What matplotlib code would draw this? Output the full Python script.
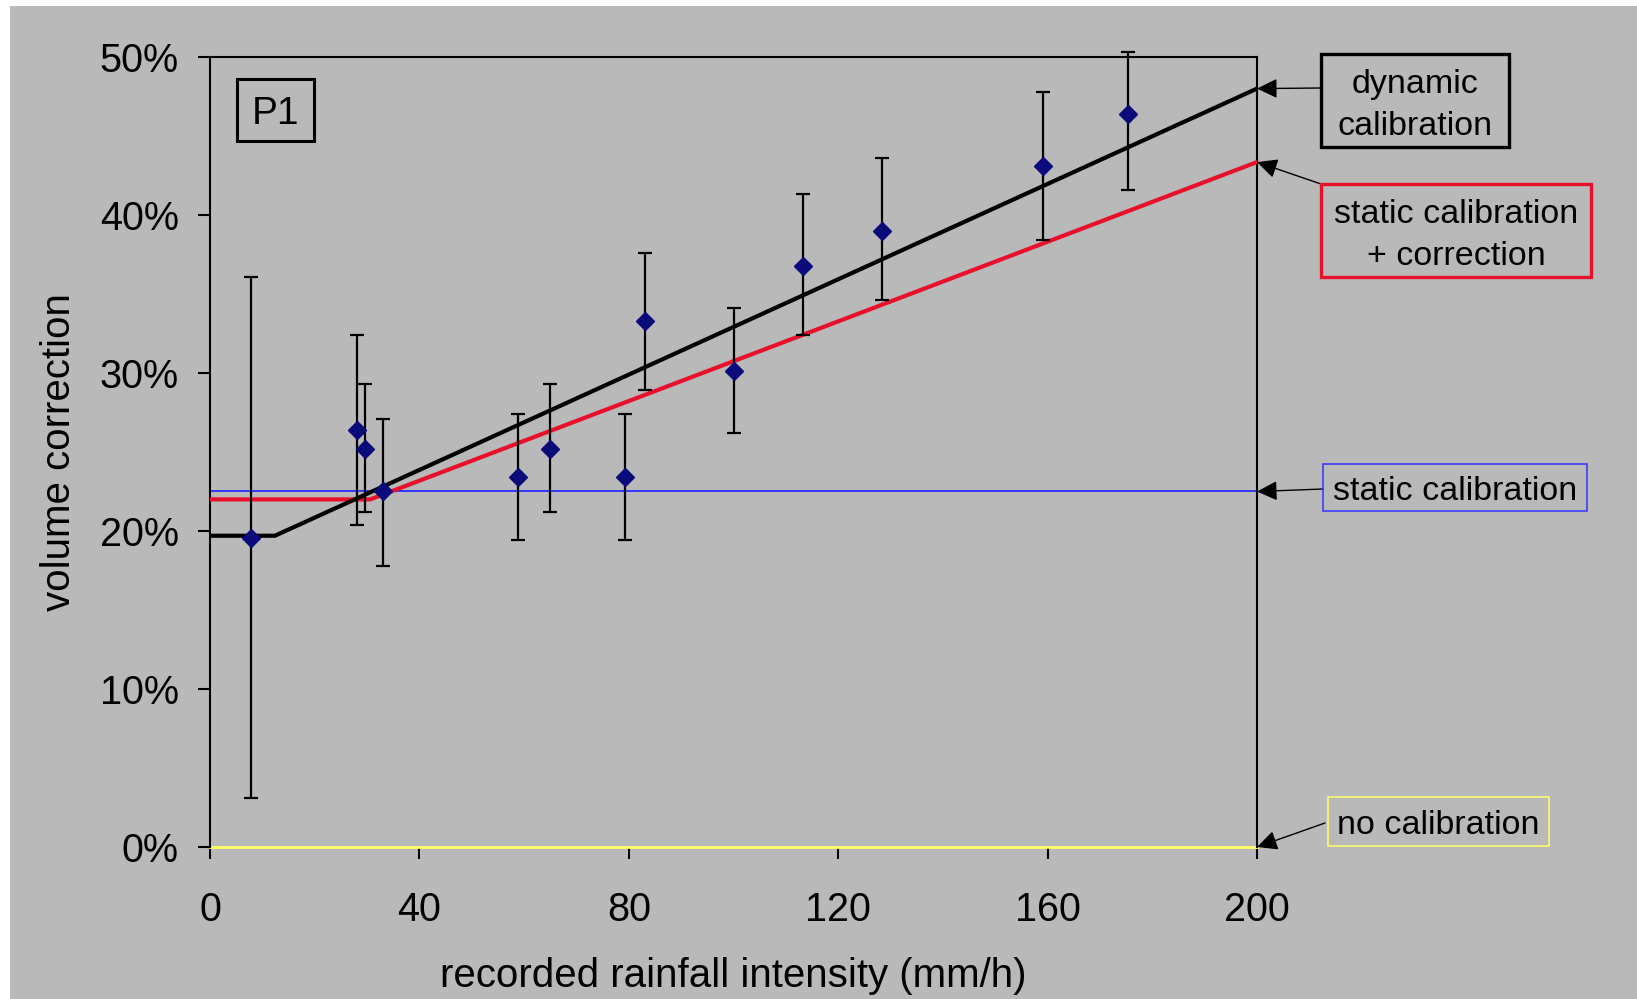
import matplotlib
matplotlib.use("Agg")
import matplotlib.pyplot as plt
from matplotlib.patches import Rectangle
from matplotlib.ticker import FixedLocator, FuncFormatter

plt.rcParams['font.family'] = ['Liberation Sans', 'DejaVu Sans']

# ---- data ----
intensity = [7.8, 28.1, 29.7, 33.1, 58.8, 65.0, 79.2, 83.0, 100.1, 113.3, 128.4, 159.1, 175.3]
correction = [19.55, 26.4, 25.2, 22.5, 23.4, 25.2, 23.4, 33.3, 30.1, 36.8, 39.0, 43.1, 46.4]
err_top = [36.1, 32.4, 29.3, 27.1, 27.4, 29.3, 27.4, 37.6, 34.1, 41.3, 43.6, 47.8, 50.3]
err_bot = [3.1, 20.4, 21.2, 17.8, 19.4, 21.2, 19.4, 28.9, 26.2, 32.4, 34.6, 38.4, 41.6]

dyn_x = [0, 12.4, 200]
dyn_y = [19.7, 19.7, 48.0]
corr_x = [0, 30.6, 200]
corr_y = [22.0, 22.0, 43.35]
static_x = [0, 200]
static_y = [22.5, 22.5]
none_x = [0, 200]
none_y = [0, 0]

xticks = [0, 40, 80, 120, 160, 200]
yticks = [0, 10, 20, 30, 40, 50]

W, H = 1637, 999
GRAY = '#b9b9b9'
RED = '#e8102a'
BLUE = '#3333ff'
YEL = '#ffff66'

fig = plt.figure(figsize=(W / 100, H / 100), dpi=100, facecolor='white')
fig.patches.append(Rectangle((10 / W, 0), 1 - 10 / W, 1 - 6 / H, transform=fig.transFigure,
                             facecolor=GRAY, edgecolor='none', zorder=-10))

def fx(px):
    return px / W

def fy(py):
    return 1 - py / H

ax = fig.add_axes([fx(210), fy(847), (1257 - 210) / W, (847 - 57) / H])
ax.set_facecolor(GRAY)
ax.set_xlim(0, 200)
ax.set_ylim(0, 50)

ax.plot(none_x, none_y, color=YEL, lw=2.0, zorder=2, clip_on=False)
ax.plot(static_x, static_y, color=BLUE, lw=1.4, zorder=2)
ax.plot(corr_x, corr_y, color=RED, lw=3.0, zorder=3)
ax.plot(dyn_x, dyn_y, color='black', lw=3.0, zorder=4)

lower = [c - b for c, b in zip(correction, err_bot)]
upper = [t - c for c, t in zip(correction, err_top)]
ax.errorbar(intensity, correction, yerr=[lower, upper], fmt='none', ecolor='black',
            elinewidth=1.6, capsize=5, capthick=1.6, zorder=5, clip_on=False)
ax.plot(intensity, correction, linestyle='none', marker='D', markersize=9.5,
        color='#0a0a7a', zorder=6)

for s in ['left', 'top', 'right']:
    ax.spines[s].set_color('black')
    ax.spines[s].set_linewidth(1.5)
ax.spines['bottom'].set_visible(False)

ax.xaxis.set_major_locator(FixedLocator(xticks))
ax.yaxis.set_major_locator(FixedLocator(yticks))
ax.yaxis.set_major_formatter(FuncFormatter(lambda v, p: f"{int(v)}%"))
ax.tick_params(axis='both', direction='out', length=8.5, width=1.5, colors='black',
               labelsize=28.5)
ax.tick_params(axis='y', pad=14)
ax.tick_params(axis='x', pad=23)

ax.set_xlabel('recorded rainfall intensity (mm/h)', fontsize=29)
ax.xaxis.label.set_va('center')
ax.xaxis.set_label_coords(0.5, (847 - 976) / (847 - 57))
ax.set_ylabel('volume correction', fontsize=29)
ax.yaxis.label.set_va('center')
ax.yaxis.set_label_coords((59 - 210) / 1047, 0.5)

# P1 box
fig.patches.append(Rectangle((fx(237), fy(141)), (314 - 237) / W, (141 - 79) / H,
                             transform=fig.transFigure, facecolor='none',
                             edgecolor='black', lw=2.2, zorder=10))
fig.text(fx(275.5), fy(110), 'P1', fontsize=28, ha='center', va='center_baseline')

# annotation boxes: (x0, y0, x1, y1) in pixels, colour, lw, text
boxes = [
    (1321, 54, 1509, 147, 'black', 2.4, 'dynamic\ncalibration'),
    (1321, 184, 1591, 277, RED, 2.4, 'static calibration\n+ correction'),
    (1323, 464, 1587, 511, BLUE, 1.1, 'static calibration'),
    (1328, 797, 1549, 846, YEL, 1.1, 'no calibration'),
]
for x0, y0, x1, y1, col, lw, txt in boxes:
    fig.patches.append(Rectangle((fx(x0), fy(y1)), (x1 - x0) / W, (y1 - y0) / H,
                                 transform=fig.transFigure, facecolor='none',
                                 edgecolor=col, lw=lw, zorder=10))
    off = 5 if '\n' in txt else 4
    fig.text(fx((x0 + x1) / 2), fy((y0 + y1) / 2 + off), txt, fontsize=24.5, ha='center',
             va='center', linespacing=1.45)

# arrows: target y value on right edge, tail pixel position
arrows = [
    (dyn_y[-1], 1321, 88),
    (corr_y[-1], 1321, 184),
    (static_y[-1], 1323, 489),
    (none_y[-1], 1325, 823),
]
for yv, tx, ty in arrows:
    ax.annotate('', xy=(200, yv), xycoords='data', xytext=(fx(tx), fy(ty)),
                textcoords='figure fraction', annotation_clip=False,
                arrowprops=dict(arrowstyle='-|>,head_length=0.62,head_width=0.3',
                                mutation_scale=20, color='black', lw=1.0,
                                shrinkA=0, shrinkB=0))

fig.savefig('out.png', dpi=100, facecolor=fig.get_facecolor())
